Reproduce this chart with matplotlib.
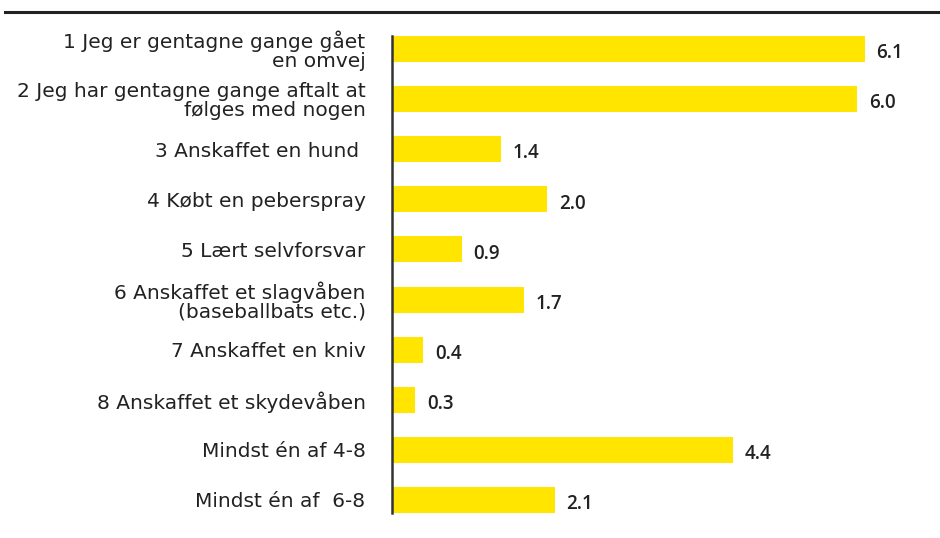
import matplotlib
matplotlib.use("Agg")
import matplotlib.pyplot as plt
from matplotlib.lines import Line2D

categories = [
    "1 Jeg er gentagne gange gået\nen omvej",
    "2 Jeg har gentagne gange aftalt at\nfølges med nogen",
    "3 Anskaffet en hund ",
    "4 Købt en peberspray",
    "5 Lært selvforsvar",
    "6 Anskaffet et slagvåben\n(baseballbats etc.)",
    "7 Anskaffet en kniv",
    "8 Anskaffet et skydevåben",
    "Mindst én af 4-8",
    "Mindst én af  6-8",
]
values = [6.1, 6.0, 1.4, 2.0, 0.9, 1.7, 0.4, 0.3, 4.4, 2.1]
value_labels = ["6.1", "6.0", "1.4", "2.0", "0.9", "1.7", "0.4", "0.3", "4.4", "2.1"]

plt.rcParams['font.family'] = ['Open Sans', 'DejaVu Sans']

fig = plt.figure(figsize=(9.4, 5.38), dpi=100)
ax = fig.add_axes([392/940, 1 - 513/538, 1 - 392/940, (513 - 36)/538])

ypos = list(range(len(categories)))
ax.barh(ypos, values, height=0.52, color="#FFE500", edgecolor="none")
ax.set_ylim(len(categories) - 1 + 0.26, -0.26)
ax.set_xlim(0, (940 - 392) / 77.5)

for y, v, lab in zip(ypos, values, value_labels):
    ax.annotate(lab, (v, y), xytext=(8.5, -3), textcoords="offset points",
                ha="left", va="center", fontsize=13.5, color="#222222",
                fontweight="semibold")

ax.set_yticks(ypos)
ax.set_yticklabels(categories, fontsize=14.5, color="#222222", linespacing=1.0,
                   family=['DejaVu Sans'])
ax.tick_params(axis="y", length=0, pad=19)
ax.set_xticks([])
for s in ["top", "right", "bottom"]:
    ax.spines[s].set_visible(False)
ax.spines["left"].set_linewidth(1.8)
ax.spines["left"].set_color("#333333")

fig.add_artist(Line2D([5/940, 1.0], [1 - 11.5/538, 1 - 11.5/538],
                      transform=fig.transFigure, color="#222222", linewidth=2.2))

fig.savefig("out.png", dpi=100)
